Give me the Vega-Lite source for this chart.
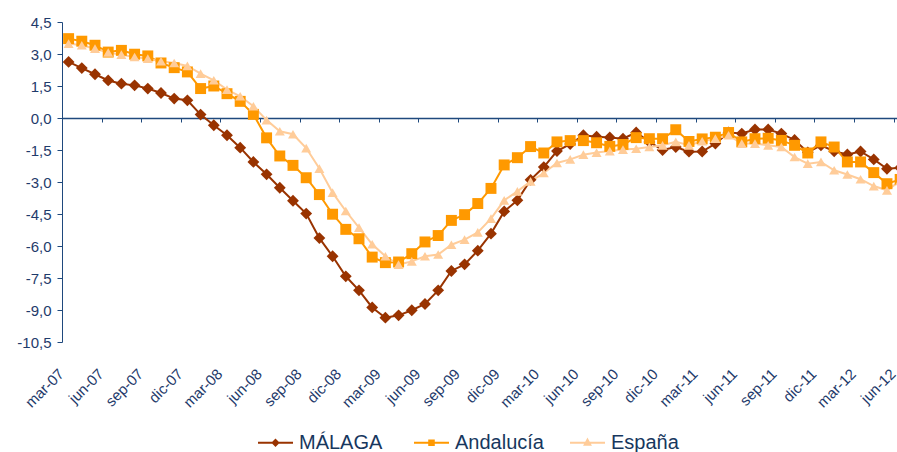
{
"$schema": "https://vega.github.io/schema/vega-lite/v6.json",
"width": 835, "height": 320,
"autosize": {"type": "none"},
"padding": {"left": 62, "top": 22, "right": 0, "bottom": 110},
"background": "white",
"config": {"view": {"stroke": null}, "font": "Liberation Sans"},
"data": {"values": [
{"i":0,"serie":"MÁLAGA","valor":2.63},{"i":1,"serie":"MÁLAGA","valor":2.34},{"i":2,"serie":"MÁLAGA","valor":2.05},{"i":3,"serie":"MÁLAGA","valor":1.76},{"i":4,"serie":"MÁLAGA","valor":1.61},{"i":5,"serie":"MÁLAGA","valor":1.53},{"i":6,"serie":"MÁLAGA","valor":1.38},{"i":7,"serie":"MÁLAGA","valor":1.17},{"i":8,"serie":"MÁLAGA","valor":0.91},{"i":9,"serie":"MÁLAGA","valor":0.83},
{"i":10,"serie":"MÁLAGA","valor":0.16},{"i":11,"serie":"MÁLAGA","valor":-0.34},{"i":12,"serie":"MÁLAGA","valor":-0.81},{"i":13,"serie":"MÁLAGA","valor":-1.39},{"i":14,"serie":"MÁLAGA","valor":-2.06},{"i":15,"serie":"MÁLAGA","valor":-2.64},{"i":16,"serie":"MÁLAGA","valor":-3.27},{"i":17,"serie":"MÁLAGA","valor":-3.88},{"i":18,"serie":"MÁLAGA","valor":-4.48},{"i":19,"serie":"MÁLAGA","valor":-5.63},
{"i":20,"serie":"MÁLAGA","valor":-6.48},{"i":21,"serie":"MÁLAGA","valor":-7.42},{"i":22,"serie":"MÁLAGA","valor":-8.08},{"i":23,"serie":"MÁLAGA","valor":-8.88},{"i":24,"serie":"MÁLAGA","valor":-9.36},{"i":25,"serie":"MÁLAGA","valor":-9.25},{"i":26,"serie":"MÁLAGA","valor":-9.01},{"i":27,"serie":"MÁLAGA","valor":-8.72},{"i":28,"serie":"MÁLAGA","valor":-8.08},{"i":29,"serie":"MÁLAGA","valor":-7.17},
{"i":30,"serie":"MÁLAGA","valor":-6.86},{"i":31,"serie":"MÁLAGA","valor":-6.22},{"i":32,"serie":"MÁLAGA","valor":-5.42},{"i":33,"serie":"MÁLAGA","valor":-4.38},{"i":34,"serie":"MÁLAGA","valor":-3.86},{"i":35,"serie":"MÁLAGA","valor":-2.90},{"i":36,"serie":"MÁLAGA","valor":-2.30},{"i":37,"serie":"MÁLAGA","valor":-1.55},{"i":38,"serie":"MÁLAGA","valor":-1.22},{"i":39,"serie":"MÁLAGA","valor":-0.81},
{"i":40,"serie":"MÁLAGA","valor":-0.88},{"i":41,"serie":"MÁLAGA","valor":-0.91},{"i":42,"serie":"MÁLAGA","valor":-0.97},{"i":43,"serie":"MÁLAGA","valor":-0.68},{"i":44,"serie":"MÁLAGA","valor":-1.12},{"i":45,"serie":"MÁLAGA","valor":-1.50},{"i":46,"serie":"MÁLAGA","valor":-1.36},{"i":47,"serie":"MÁLAGA","valor":-1.58},{"i":48,"serie":"MÁLAGA","valor":-1.57},{"i":49,"serie":"MÁLAGA","valor":-1.20},
{"i":50,"serie":"MÁLAGA","valor":-0.68},{"i":51,"serie":"MÁLAGA","valor":-0.73},{"i":52,"serie":"MÁLAGA","valor":-0.54},{"i":53,"serie":"MÁLAGA","valor":-0.54},{"i":54,"serie":"MÁLAGA","valor":-0.73},{"i":55,"serie":"MÁLAGA","valor":-1.03},{"i":56,"serie":"MÁLAGA","valor":-1.61},{"i":57,"serie":"MÁLAGA","valor":-1.28},{"i":58,"serie":"MÁLAGA","valor":-1.56},{"i":59,"serie":"MÁLAGA","valor":-1.71},
{"i":60,"serie":"MÁLAGA","valor":-1.57},{"i":61,"serie":"MÁLAGA","valor":-1.94},{"i":62,"serie":"MÁLAGA","valor":-2.38},{"i":63,"serie":"MÁLAGA","valor":-2.33},
{"i":0,"serie":"Andalucía","valor":3.72},{"i":1,"serie":"Andalucía","valor":3.60},{"i":2,"serie":"Andalucía","valor":3.41},{"i":3,"serie":"Andalucía","valor":3.09},{"i":4,"serie":"Andalucía","valor":3.17},{"i":5,"serie":"Andalucía","valor":2.99},{"i":6,"serie":"Andalucía","valor":2.91},{"i":7,"serie":"Andalucía","valor":2.58},{"i":8,"serie":"Andalucía","valor":2.36},{"i":9,"serie":"Andalucía","valor":2.16},
{"i":10,"serie":"Andalucía","valor":1.38},{"i":11,"serie":"Andalucía","valor":1.50},{"i":12,"serie":"Andalucía","valor":1.14},{"i":13,"serie":"Andalucía","valor":0.78},{"i":14,"serie":"Andalucía","valor":0.17},{"i":15,"serie":"Andalucía","valor":-0.93},{"i":16,"serie":"Andalucía","valor":-1.78},{"i":17,"serie":"Andalucía","valor":-2.22},{"i":18,"serie":"Andalucía","valor":-2.80},{"i":19,"serie":"Andalucía","valor":-3.59},
{"i":20,"serie":"Andalucía","valor":-4.51},{"i":21,"serie":"Andalucía","valor":-5.22},{"i":22,"serie":"Andalucía","valor":-5.66},{"i":23,"serie":"Andalucía","valor":-6.52},{"i":24,"serie":"Andalucía","valor":-6.78},{"i":25,"serie":"Andalucía","valor":-6.75},{"i":26,"serie":"Andalucía","valor":-6.36},{"i":27,"serie":"Andalucía","valor":-5.81},{"i":28,"serie":"Andalucía","valor":-5.51},{"i":29,"serie":"Andalucía","valor":-4.80},
{"i":30,"serie":"Andalucía","valor":-4.53},{"i":31,"serie":"Andalucía","valor":-4.01},{"i":32,"serie":"Andalucía","valor":-3.30},{"i":33,"serie":"Andalucía","valor":-2.20},{"i":34,"serie":"Andalucía","valor":-1.86},{"i":35,"serie":"Andalucía","valor":-1.34},{"i":36,"serie":"Andalucía","valor":-1.64},{"i":37,"serie":"Andalucía","valor":-1.12},{"i":38,"serie":"Andalucía","valor":-1.06},{"i":39,"serie":"Andalucía","valor":-1.06},
{"i":40,"serie":"Andalucía","valor":-1.16},{"i":41,"serie":"Andalucía","valor":-1.33},{"i":42,"serie":"Andalucía","valor":-1.24},{"i":43,"serie":"Andalucía","valor":-0.92},{"i":44,"serie":"Andalucía","valor":-0.97},{"i":45,"serie":"Andalucía","valor":-0.97},{"i":46,"serie":"Andalucía","valor":-0.55},{"i":47,"serie":"Andalucía","valor":-1.10},{"i":48,"serie":"Andalucía","valor":-0.98},{"i":49,"serie":"Andalucía","valor":-0.90},
{"i":50,"serie":"Andalucía","valor":-0.68},{"i":51,"serie":"Andalucía","valor":-1.12},{"i":52,"serie":"Andalucía","valor":-0.97},{"i":53,"serie":"Andalucía","valor":-0.95},{"i":54,"serie":"Andalucía","valor":-1.05},{"i":55,"serie":"Andalucía","valor":-1.28},{"i":56,"serie":"Andalucía","valor":-1.64},{"i":57,"serie":"Andalucía","valor":-1.12},{"i":58,"serie":"Andalucía","valor":-1.36},{"i":59,"serie":"Andalucía","valor":-2.06},
{"i":60,"serie":"Andalucía","valor":-2.06},{"i":61,"serie":"Andalucía","valor":-2.56},{"i":62,"serie":"Andalucía","valor":-3.08},{"i":63,"serie":"Andalucía","valor":-2.88},
{"i":0,"serie":"España","valor":3.49},{"i":1,"serie":"España","valor":3.41},{"i":2,"serie":"España","valor":3.25},{"i":3,"serie":"España","valor":3.07},{"i":4,"serie":"España","valor":2.97},{"i":5,"serie":"España","valor":2.86},{"i":6,"serie":"España","valor":2.78},{"i":7,"serie":"España","valor":2.66},{"i":8,"serie":"España","valor":2.58},{"i":9,"serie":"España","valor":2.44},
{"i":10,"serie":"España","valor":2.08},{"i":11,"serie":"España","valor":1.77},{"i":12,"serie":"España","valor":1.33},{"i":13,"serie":"España","valor":1.02},{"i":14,"serie":"España","valor":0.55},{"i":15,"serie":"España","valor":-0.10},{"i":16,"serie":"España","valor":-0.62},{"i":17,"serie":"España","valor":-0.76},{"i":18,"serie":"España","valor":-1.41},{"i":19,"serie":"España","valor":-2.37},
{"i":20,"serie":"España","valor":-3.50},{"i":21,"serie":"España","valor":-4.36},{"i":22,"serie":"España","valor":-5.14},{"i":23,"serie":"España","valor":-5.92},{"i":24,"serie":"España","valor":-6.48},{"i":25,"serie":"España","valor":-6.87},{"i":26,"serie":"España","valor":-6.72},{"i":27,"serie":"España","valor":-6.48},{"i":28,"serie":"España","valor":-6.40},{"i":29,"serie":"España","valor":-5.94},
{"i":30,"serie":"España","valor":-5.70},{"i":31,"serie":"España","valor":-5.36},{"i":32,"serie":"España","valor":-4.72},{"i":33,"serie":"España","valor":-3.86},{"i":34,"serie":"España","valor":-3.44},{"i":35,"serie":"España","valor":-2.97},{"i":36,"serie":"España","valor":-2.58},{"i":37,"serie":"España","valor":-2.11},{"i":38,"serie":"España","valor":-1.94},{"i":39,"serie":"España","valor":-1.72},
{"i":40,"serie":"España","valor":-1.62},{"i":41,"serie":"España","valor":-1.55},{"i":42,"serie":"España","valor":-1.48},{"i":43,"serie":"España","valor":-1.44},{"i":44,"serie":"España","valor":-1.36},{"i":45,"serie":"España","valor":-1.28},{"i":46,"serie":"España","valor":-1.12},{"i":47,"serie":"España","valor":-1.28},{"i":48,"serie":"España","valor":-1.09},{"i":49,"serie":"España","valor":-0.97},
{"i":50,"serie":"España","valor":-0.81},{"i":51,"serie":"España","valor":-1.20},{"i":52,"serie":"España","valor":-1.20},{"i":53,"serie":"España","valor":-1.28},{"i":54,"serie":"España","valor":-1.36},{"i":55,"serie":"España","valor":-1.83},{"i":56,"serie":"España","valor":-2.14},{"i":57,"serie":"España","valor":-2.06},{"i":58,"serie":"España","valor":-2.45},{"i":59,"serie":"España","valor":-2.65},
{"i":60,"serie":"España","valor":-2.87},{"i":61,"serie":"España","valor":-3.19},{"i":62,"serie":"España","valor":-3.39},{"i":63,"serie":"España","valor":-2.95}
]},
"encoding": {
  "y": {"field": "valor", "type": "quantitative",
        "scale": {"domain": [-10.5, 4.5], "nice": false, "zero": false},
        "axis": {"title": null, "grid": false, "values": [-10.5,-9,-7.5,-6,-4.5,-3,-1.5,0,1.5,3,4.5],
                 "labelExpr": "replace(replace(format(datum.value, '.1f'), '.', ','), '\u2212', '-')",
                 "domainColor": "#1f497d", "tickColor": "#1f497d", "tickSize": 5, "labelPadding": 6,
                 "labelFont": "Liberation Sans", "labelFontSize": 15, "labelColor": "#1f3b6b"}}
},
"layer": [
  {"mark": {"type": "line", "strokeWidth": 2, "clip": true},
   "encoding": {
     "x": {"field": "i", "type": "quantitative", "scale": {"domain": [-0.5, 62.76], "nice": false, "zero": false},
       "axis": {"title": null, "orient": "bottom", "offset": -224, "labels": false, "grid": false,
              "values": [-0.5,2.5,5.5,8.5,11.5,14.5,17.5,20.5,23.5,26.5,29.5,32.5,35.5,38.5,41.5,44.5,47.5,50.5,53.5,56.5,59.5,62.5],
              "tickSize": 4, "tickColor": "#1f497d", "domainColor": "#1f497d", "domainWidth": 1.5}},
     "color": {"field": "serie", "type": "nominal",
            "scale": {"domain": ["MÁLAGA", "Andalucía", "España"], "range": ["#993300", "#ff9900", "#ffcc99"]},
            "legend": {"title": null, "orient": "none", "legendX": 195, "legendY": 402, "direction": "horizontal",
                       "gridAlign": "all", "columnPadding": 22,
                       "symbolType": {"expr": "datum.value === 'MÁLAGA' ? 'M-1,0H1M0,-0.16L0.16,0L0,0.16L-0.16,0Z' : datum.value === 'Andalucía' ? 'M-1,0H1M-0.13,-0.13H0.13V0.13H-0.13Z' : 'M-1,0H1M0,-0.18L0.16,0.12H-0.16Z'"},
                       "symbolSize": 1225, "symbolStrokeWidth": 2, "symbolOpacity": 1,
                       "symbolFillColor": {"expr": "scale('color', datum.value)"},
                       "symbolStrokeColor": {"expr": "scale('color', datum.value)"},
                       "labelFont": "Liberation Sans Narrow, Liberation Sans", "labelFontSize": 20, "labelColor": "#17375e", "labelOffset": 5}}}},
  {"mark": {"type": "point", "filled": true, "opacity": 1, "clip": true},
   "encoding": {
     "x": {"field": "i", "type": "quantitative", "scale": {"domain": [-0.5, 62.76], "nice": false, "zero": false},
       "axis": {"title": null, "orient": "bottom", "domain": false, "ticks": false, "grid": false,
              "values": [-0.5,2.5,5.5,8.5,11.5,14.5,17.5,20.5,23.5,26.5,29.5,32.5,35.5,38.5,41.5,44.5,47.5,50.5,53.5,56.5,59.5,62.5],
              "labelAngle": -45, "labelPadding": 24, "labelOffset": -6, "labelOverlap": false, "labelFlush": false, "labelBound": false,
              "labelExpr": "['ene','feb','mar','abr','may','jun','jul','ago','sep','oct','nov','dic'][(round(datum.value + 0.5) + 2) % 12] + '-' + format(floor((round(datum.value + 0.5) + 2) / 12) + 7, '02d')",
              "labelFont": "Liberation Sans Narrow, Liberation Sans", "labelFontSize": 15, "labelColor": "#1f3b6b"}},
     "color": {"field": "serie", "type": "nominal", "legend": null},
     "shape": {"field": "serie", "type": "nominal", "legend": null,
               "scale": {"domain": ["MÁLAGA", "Andalucía", "España"], "range": ["diamond", "square", "triangle-up"]}},
     "size": {"field": "serie", "type": "nominal", "legend": null,
               "scale": {"domain": ["MÁLAGA", "Andalucía", "España"], "range": [140, 100, 120]}}}}
],
"resolve": {"axis": {"x": "independent"}, "legend": {"color": "independent"}}
}
